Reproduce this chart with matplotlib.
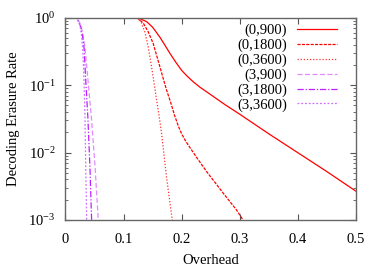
import matplotlib
matplotlib.use("Agg")
import matplotlib.pyplot as plt
from matplotlib.ticker import LogLocator, NullFormatter, MultipleLocator

plt.rcParams['font.family'] = ['Liberation Serif', 'DejaVu Serif']
plt.rcParams['mathtext.fontset'] = 'custom'
plt.rcParams['mathtext.rm'] = 'Liberation Serif'
plt.rcParams['mathtext.it'] = 'Liberation Serif:italic'
plt.rcParams['mathtext.bf'] = 'Liberation Serif:bold'

# data: overhead x and decoding erasure rate y (log10 values)
x_0_900 = [0.085, 0.11, 0.12, 0.13, 0.14, 0.15, 0.1627, 0.17, 0.18, 0.19, 0.2, 0.21, 0.22, 0.2315, 0.25, 0.275, 0.3, 0.35, 0.4, 0.45, 0.5]
lg_0_900 = [0, 0, -0.005, -0.02, -0.06, -0.14, -0.29, -0.39, -0.53, -0.66, -0.78, -0.87, -0.95, -1.03, -1.14, -1.29, -1.43, -1.72, -2.0, -2.28, -2.57]

x_0_1800 = [0.085, 0.115, 0.125, 0.134, 0.142, 0.151, 0.1627, 0.174, 0.181, 0.188, 0.195, 0.2, 0.207, 0.214, 0.225, 0.243, 0.2716, 0.2946, 0.306]
lg_0_1800 = [0, 0, -0.01, -0.08, -0.2, -0.38, -0.73, -1.07, -1.25, -1.45, -1.62, -1.72, -1.83, -1.92, -2.06, -2.28, -2.6, -2.85, -3.0]

x_0_3600 = [0.085, 0.115, 0.124, 0.131, 0.137, 0.1425, 0.151, 0.157, 0.1615, 0.1655, 0.174, 0.184]
lg_0_3600 = [0, 0, -0.01, -0.08, -0.22, -0.43, -0.875, -1.22, -1.47, -1.71, -2.36, -3.0]

x_3_900 = [0.01, 0.019, 0.023, 0.026, 0.03, 0.0336, 0.039, 0.0445, 0.0508, 0.0565]
lg_3_900 = [0, 0, -0.05, -0.1, -0.25, -0.45, -0.95, -1.47, -2.19, -3.0]

x_3_1800 = [0.01, 0.019, 0.022, 0.026, 0.029, 0.032, 0.035, 0.0385, 0.042, 0.045]
lg_3_1800 = [0, 0, -0.05, -0.13, -0.25, -0.45, -0.95, -1.47, -2.19, -3.0]

x_3_3600 = [0.01, 0.019, 0.022, 0.025, 0.0275, 0.0296, 0.032, 0.0336, 0.0348, 0.0365]
lg_3_3600 = [0, 0, -0.05, -0.12, -0.25, -0.45, -0.95, -1.47, -2.19, -3.0]

labels = ['(0,900)', '(0,1800)', '(0,3600)', '(3,900)', '(3,1800)', '(3,3600)']
xlabel = 'Overhead'
ylabel = 'Decoding Erasure Rate'

series = [(x_0_900, lg_0_900), (x_0_1800, lg_0_1800), (x_0_3600, lg_0_3600),
          (x_3_900, lg_3_900), (x_3_1800, lg_3_1800), (x_3_3600, lg_3_3600)]
colors = ['#ff0000', '#ff0000', '#ff3030', '#e08cff', '#c020ff', '#d070ff']
styles = ['-', (0, (2.5, 1)), (0, (1, 1.5)), (0, (4, 2)), (0, (5, 1.5, 1, 1.5)), (0, (1.5, 1.5))]

fig = plt.figure(figsize=(3.83, 2.68), dpi=100)
ax = fig.add_axes([0.171, 0.179, 0.7577, 0.755])

for (xs, lg), lab, c, ls in zip(series, labels, colors, styles):
    ys = [10 ** v for v in lg]
    ax.plot(xs, ys, color=c, linestyle=ls, linewidth=0.9, label=lab)

ax.set_yscale('log')
ax.set_xlim(0, 0.5)
ax.set_ylim(1e-3, 1)
ax.xaxis.set_major_locator(MultipleLocator(0.1))
ax.xaxis.set_major_formatter(matplotlib.ticker.FuncFormatter(lambda v, p: ('%g' % round(v, 3))))
ax.yaxis.set_major_locator(LogLocator(base=10, numticks=10))
ax.yaxis.set_minor_locator(LogLocator(base=10, subs=range(2, 10), numticks=10))
ax.yaxis.set_minor_formatter(NullFormatter())

ax.tick_params(which='both', direction='in', top=True, right=True, labelsize=10.5, colors='#555555', labelcolor='black')
ax.tick_params(which='major', length=4, width=0.8)
ax.tick_params(axis='x', which='major', pad=9)
ax.tick_params(axis='y', which='major', pad=7)
ax.tick_params(which='minor', length=2, width=0.6)
for s in ax.spines.values():
    s.set_color('#666666')
    s.set_linewidth(1.0)

ax.set_xlabel(xlabel, fontsize=10.5, labelpad=6)
ax.set_ylabel(ylabel, fontsize=10.5, labelpad=6)

leg = ax.legend(loc='upper right', bbox_to_anchor=(0.955, 1.0), frameon=False, fontsize=10.5,
                markerfirst=False, handlelength=2.7, handletextpad=0.7,
                labelspacing=0.1, borderaxespad=0.2, borderpad=0.2)
for t in leg.get_texts():
    t.set_ha('right')

fig.savefig('out.png', dpi=100)
